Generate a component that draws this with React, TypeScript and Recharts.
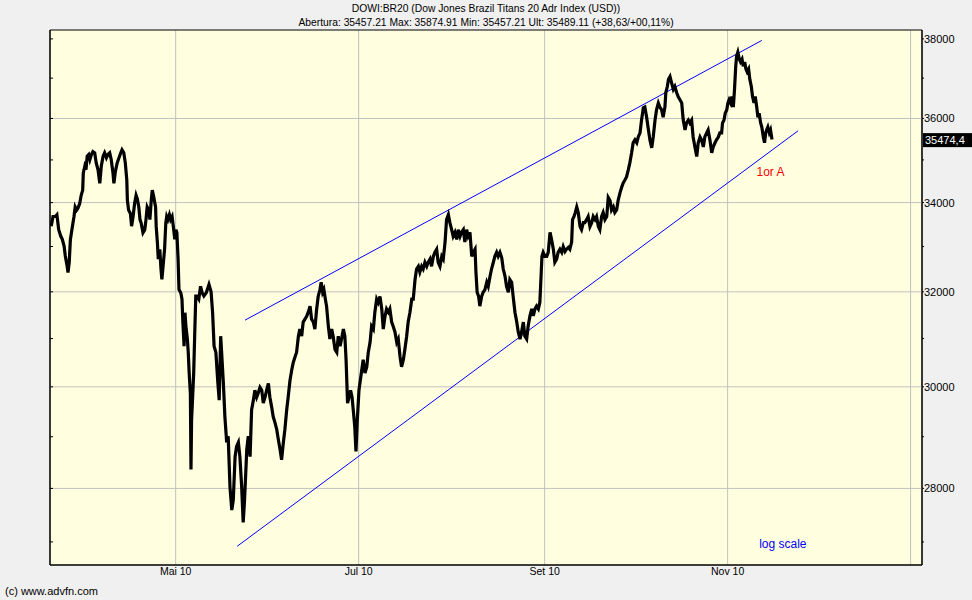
import { CartesianGrid, Line, LineChart, ReferenceArea, ReferenceDot, ReferenceLine, XAxis, YAxis } from "recharts"

// days counted from 1 May 2010 (intraday, so fractional)
const days = [
  -41.5, -40.9, -40.1, -39.6, -39.0, -38.3, -37.8, -37.2, -36.8, -36.2,
  -35.9, -35.5, -35.1, -34.6, -33.9, -33.5, -33.0, -32.6, -32.0, -31.5,
  -31.0, -30.8, -30.3, -29.9, -29.5, -29.0, -28.6, -28.1, -27.6, -27.0,
  -26.5, -25.9, -25.3, -24.8, -24.2, -23.7, -23.1, -22.6, -22.0, -21.5,
  -20.9, -20.6, -20.1, -19.5, -18.9, -18.3, -17.9, -17.3, -16.8, -16.3,
  -16.1, -15.7, -15.1, -14.7, -14.2, -13.7, -13.2, -12.8, -12.3, -11.9,
  -11.5, -10.9, -10.3, -9.9, -9.5, -9.0, -8.6, -8.1, -7.8, -7.3,
  -7.0, -6.7, -6.5, -6.1, -5.8, -5.3, -4.9, -4.6, -4.1, -3.7,
  -3.3, -3.0, -2.6, -2.1, -1.7, -1.2, -0.8, -0.3, 0.1, 0.4,
  0.8, 1.1, 1.7, 2.1, 2.4, 2.8, 3.1, 3.4, 3.9, 4.2,
  4.5, 4.9, 5.1, 5.3, 5.7, 6.0, 6.3, 6.7, 7.0, 7.7,
  8.3, 8.8, 9.4, 10.2,
  11.1, 11.8, 12.3, 12.8, 13.4, 14.0, 14.5, 15.0, 15.4, 15.9,
  16.4, 17.0, 17.5, 18.1, 18.7, 19.2, 19.8, 20.3, 20.9, 21.4,
  22.0, 22.5, 22.9, 23.3, 23.7, 24.2, 24.8, 25.3, 25.9, 26.4,
  27.0, 27.5, 28.1, 28.7, 29.2, 29.8, 30.3, 30.9, 31.4, 32.0,
  32.5, 33.1, 33.7, 34.2, 34.8, 35.3, 35.9, 36.4, 37.0, 37.5,
  38.1, 38.7, 39.2, 39.8, 40.3, 40.9, 41.4, 42.0, 42.5, 43.1,
  43.7, 44.2, 44.8, 45.3, 45.9, 46.4, 47.0, 47.5, 48.1, 48.5,
  49.0, 49.4, 49.9, 50.3, 50.9, 51.4, 52.0, 52.5, 53.1, 53.7,
  54.2, 54.8, 55.3, 55.9, 56.4, 56.8, 57.0, 57.3, 57.8, 58.3,
  58.8, 59.2, 59.7, 60.1, 60.5, 61.1,
  62.5, 63.1, 63.7, 64.2, 64.8, 65.3, 65.9, 66.4, 67.0, 67.5,
  68.1, 68.7, 69.2, 69.8, 70.3, 70.9, 71.4, 72.0, 72.5, 73.1,
  73.7, 74.2, 74.8, 75.3, 75.9, 76.4, 77.0, 77.5, 78.1, 78.7,
  79.2, 79.8, 80.3, 80.9, 81.4, 82.0, 82.5, 83.1, 83.7, 84.2,
  84.8, 85.3, 85.9, 86.4, 87.0, 87.5, 88.1, 88.7, 89.2, 89.8,
  90.3, 90.9, 91.4, 92.0, 92.5, 93.1, 93.7, 94.2, 94.8, 95.3,
  95.9, 96.4, 97.0, 97.5, 98.1, 98.7, 99.2, 99.8, 100.1, 100.5,
  101.0, 101.4, 102.0, 102.5, 103.1, 103.7, 104.2, 104.8, 105.3, 105.9,
  106.4, 107.0, 107.5, 108.1, 108.7, 109.2, 109.8, 110.3, 110.9, 111.4,
  112.0, 112.5, 113.1, 113.7, 114.2, 114.8, 115.3, 115.9, 116.4, 117.0,
  117.5, 118.1, 118.7, 119.2, 119.8, 120.3, 120.9, 121.4, 121.8, 122.1,
  122.5, 123.1, 123.7, 124.2, 124.8, 125.3, 125.9, 126.4, 127.0, 127.5,
  128.1, 128.7, 129.2, 129.8, 130.3, 130.9, 131.4, 132.0, 132.3, 132.8,
  133.2, 133.7, 134.2, 134.8, 135.3, 135.9, 136.4, 137.0, 137.5, 138.1,
  138.7, 139.2, 139.8, 140.3, 140.9, 141.4, 142.0, 142.5, 143.1, 143.7,
  144.2, 144.8, 145.3, 145.9, 146.4, 147.0, 147.5, 148.1, 148.7, 149.2,
  149.8, 150.3, 150.9, 151.4, 152.0, 152.5, 153.1, 153.7, 154.2, 154.8,
  155.3, 155.9, 156.4, 157.0, 157.5, 158.1, 158.7, 159.2, 159.8, 160.3,
  160.9, 161.4, 162.0, 162.5, 163.1, 163.4, 163.9, 164.3, 164.8, 165.3,
  165.9, 166.4, 167.0, 167.5, 168.1, 168.7, 169.2, 169.8, 170.3, 170.9,
  171.4, 172.0, 172.5, 173.1, 173.7, 174.2, 174.8, 175.3, 175.9, 176.4,
  177.0, 177.5, 178.1, 178.7, 179.2, 179.8, 180.3, 180.9, 181.4, 182.0,
  182.3, 182.8, 183.2, 183.7, 184.1, 184.5, 185.0, 185.4, 185.9, 186.3,
  186.7, 187.0, 187.4, 187.9, 188.3, 188.8, 189.2, 189.7, 190.1, 190.5,
  191.0, 191.4, 191.9, 192.3, 192.8, 193.2, 193.7, 194.1, 194.5, 195.0,
  195.4, 195.9, 196.3, 196.7, 197.0, 197.4, 197.9, 198.3, 198.8,
]

const prices = [
  33460, 33680, 33680, 33720, 33380, 33230, 33160, 33010, 32790, 32570,
  32420, 32640, 33160, 33380, 33680, 33900, 33830, 33870, 33980, 34170,
  34290, 34690, 34850, 34770, 35090, 35130, 35010, 35130, 35200, 35170,
  34930, 34770, 34450, 34850, 35090, 35170, 35050, 35130, 35170, 35010,
  34690, 34450, 34730, 34930, 35050, 35170, 35240, 35170, 34930, 34530,
  34050, 33830, 33750, 33460, 33680, 33980, 34170, 34090, 33900, 33610,
  33530, 33310, 33380, 33610, 33900, 33830, 33610, 34090, 34290, 34130,
  34010, 33900, 33460, 33090, 32720, 32940, 32500, 32270, 32640, 32940,
  33530, 33680, 33610, 33720, 33610, 33680, 33460, 33160, 33380, 33310,
  32720, 32050, 31980, 31840, 31340, 30840, 31550, 31270, 30990, 30700,
  30280, 29860, 28360, 29340, 29860, 30280, 30990, 31910, 31910, 31840,
  32120, 31980, 31910, 31980,
  32160, 32000, 31560, 30840, 30710, 30130, 29730, 31050, 30620, 30070,
  29400, 28890, 29010, 28030, 27590, 27780, 28610, 28810, 28890, 28610,
  28030, 27360, 27720, 28220, 28750, 29010, 28610, 29530, 29730, 29930,
  29790, 29870, 29990, 29930, 29670, 29790, 29930, 30070, 29790, 29590,
  29400, 29280, 29140, 28950, 28750, 28550, 28890, 29140, 29530, 29790,
  30130, 30350, 30500, 30620, 30710, 31050, 31200, 31050, 31350, 31410,
  31480, 31560, 31690, 31410, 31350, 31200, 31630, 31900, 32050, 32210,
  31990, 32050, 31840, 31690, 31260, 30990, 31200, 31050, 30770, 30710,
  31050, 30840, 30990, 31200, 31050, 30560, 30200, 29670, 29790, 29930,
  29790, 29530, 29200, 28710, 29280, 29930,
  30560, 30280, 30410, 30710, 30920, 31260, 31200, 31560, 31840, 31770,
  31900, 31630, 31200, 31480, 31630, 31560, 31630, 31350, 31260, 31140,
  30920, 30990, 30620, 30410, 30560, 30770, 31050, 31350, 31560, 31840,
  31840, 32270, 32500, 32560, 32430, 32560, 32500, 32650, 32560, 32650,
  32720, 32560, 32780, 32870, 32940, 32650, 32560, 32780, 32720, 33100,
  33610, 33720, 33540, 33380, 33230, 33320, 33160, 33380, 33230, 33320,
  33380, 33100, 33380, 33230, 33320, 32780, 32870, 32940, 32430, 31990,
  31900, 31690, 31900, 31990, 32050, 32210, 32120, 32340, 32500, 32650,
  32780, 32870, 32780, 32870, 32750, 32500, 32340, 32120, 31990, 32270,
  32210, 31900, 31560, 31350, 31140, 30990, 31140, 31350, 31050, 30990,
  31260, 31480, 31630, 31480, 31630, 31690, 31630, 31770, 32340, 32780,
  32870, 32780, 32780, 32870, 33320, 33160, 32940, 32650, 32720, 32870,
  32940, 32870, 33000, 32890, 32940, 32980, 32940, 33100, 33610, 33680,
  33770, 33900, 33770, 33450, 33380, 33540, 33540, 33610, 33680, 33450,
  33540, 33680, 33610, 33680, 33450, 33380, 33680, 33770, 33610, 33680,
  34120, 34050, 33830, 33900, 33770, 33830, 34050, 34220, 34360, 34460,
  34530, 34600, 34770, 34930, 35170, 35410, 35480, 35410, 35550, 35650,
  35960, 36260, 36280, 36030, 35770, 35480, 35290, 35550, 35960, 36210,
  36380, 36280, 36210, 36030, 36280, 36640, 36790, 36970, 37040, 36890,
  36720, 36790, 36640, 36540, 36460, 36380, 35960, 35720, 35890, 35960,
  35890, 35960, 35550, 35310, 35080, 35410, 35550, 35480, 35310, 35550,
  35650, 35720, 35480, 35170, 35310, 35410, 35480, 35550, 35650, 35650,
  35890, 35960, 36130, 36210, 36380, 36460, 36380, 36540, 36280, 36720,
  37300, 37560, 37660, 37480, 37410, 37480, 37300, 37410, 37230, 37160,
  37230, 36970, 36790, 36540, 36380, 36540, 36280, 36030, 36130, 35890,
  35790, 35550, 35410, 35650, 35720, 35790, 35650, 35720, 35490,
]

const monthTicks = [0, 61, 123, 184, 245]
const monthLabels = ["Mai 10", "Jul 10", "Set 10", "Nov 10", ""]
const priceTicks = [27000, 28000, 29000, 30000, 31000, 32000, 33000, 34000, 35000, 36000, 37000, 38000]
const gridPrices = [28000, 30000, 32000, 34000, 36000]

const upperTrend = [{ x: 23.1, y: 31390 }, { x: 195.4, y: 37960 }]
const lowerTrend = [{ x: 20.5, y: 26920 }, { x: 207.5, y: 35700 }]
const lastPrice = 35474.4

const xDomain = [-41.9, 248.8]
const yDomain = [26580, 38230]

const data = days.map((day, i) => ({ day, price: prices[i] }))

const font = "'Liberation Sans', Arial, sans-serif"

function PriceTick({ x, y, payload }: any) {
  if (payload.value % 2000 !== 0) return <g />
  return (
    <text x={x} y={y + 4} fontSize={11} fill="#000" fontFamily={font} textAnchor="start">
      {payload.value}
    </text>
  )
}

function EmptyTick() {
  return <g />
}

function LastPriceLabel({ viewBox }: any) {
  const right = viewBox.x + viewBox.width
  return (
    <g>
      <rect x={right + 1} y={viewBox.y - 7} width={50} height={14} fill="#000" />
      <text x={right + 3} y={viewBox.y + 4} fontSize={11} fill="#fff" fontFamily={font}>
        {lastPrice.toFixed(1).replace(".", ",")}
      </text>
    </g>
  )
}

export default function App() {
  return (
    <div style={{ position: "absolute", left: 0, top: 0, width: 972, height: 600, background: "#f0f0f0", fontFamily: font }}>
      <div style={{ position: "absolute", top: 2, width: 972, textAlign: "center", fontSize: 10.3, lineHeight: "13px" }}>
        DOWI:BR20 (Dow Jones Brazil Titans 20 Adr Index (USD))
      </div>
      <div style={{ position: "absolute", top: 16, width: 972, textAlign: "center", fontSize: 10.3, lineHeight: "13px" }}>
        Abertura: 35457.21 Max: 35874.91 Min: 35457.21 Ult: 35489.11 (+38,63/+00,11%)
      </div>
      <LineChart width={972} height={600} data={data} margin={{ top: 30, right: 0, bottom: 0, left: 50 }}>
        <CartesianGrid yAxisId="r" horizontal={false} stroke="#c0c0c0" fill="#ffffe0" fillOpacity={1} />
        <XAxis
          dataKey="day"
          type="number"
          domain={xDomain}
          allowDataOverflow
          ticks={monthTicks}
          tickFormatter={(v: number) => monthLabels[monthTicks.indexOf(v)]}
          height={35}
          tickSize={0}
          tickMargin={3}
          axisLine={{ stroke: "#000" }}
          tick={{ fontSize: 10.5, fill: "#000", fontFamily: font }}
        />
        <YAxis
          yAxisId="l"
          orientation="left"
          mirror
          scale="log"
          type="number"
          domain={yDomain}
          allowDataOverflow
          ticks={priceTicks}
          tick={<EmptyTick />}
          tickSize={3}
          tickLine={{ stroke: "#000" }}
          axisLine={{ stroke: "#000" }}
        />
        <YAxis
          yAxisId="r"
          orientation="right"
          scale="log"
          type="number"
          domain={yDomain}
          allowDataOverflow
          ticks={priceTicks}
          width={50}
          tickSize={2}
          tickMargin={0}
          tickLine={{ stroke: "#000" }}
          axisLine={{ stroke: "#000" }}
          tick={<PriceTick />}
        />
        {gridPrices.map((p) => (
          <ReferenceLine key={p} yAxisId="r" y={p} stroke="#c0c0c0" />
        ))}
        <ReferenceLine yAxisId="r" segment={upperTrend} stroke="#0000ff" strokeWidth={1} />
        <ReferenceLine yAxisId="r" segment={lowerTrend} stroke="#0000ff" strokeWidth={1} />
        <Line
          yAxisId="r"
          type="linear"
          dataKey="price"
          stroke="#000"
          strokeWidth={3.2}
          strokeLinejoin="miter"
          dot={false}
          isAnimationActive={false}
        />
        <ReferenceArea
          yAxisId="r"
          x1={xDomain[0]}
          x2={xDomain[1]}
          y1={yDomain[0]}
          y2={yDomain[1]}
          fill="none"
          stroke="#000"
          strokeWidth={1}
        />
        <ReferenceLine yAxisId="r" y={lastPrice} stroke="none" label={<LastPriceLabel />} />
        <ReferenceDot
          yAxisId="r"
          x={198.3}
          y={34711}
          r={0}
          fill="none"
          stroke="none"
          label={{ value: "1or A", fill: "#ff0000", fontSize: 12, fontFamily: font, position: "center" }}
        />
        <ReferenceDot
          yAxisId="r"
          x={202.4}
          y={26961}
          r={0}
          fill="none"
          stroke="none"
          label={{ value: "log scale", fill: "#0000ff", fontSize: 12, fontFamily: font, position: "center" }}
        />
      </LineChart>
      <div style={{ position: "absolute", left: 5, top: 585, fontSize: 11, lineHeight: "13px" }}>(c) www.advfn.com</div>
    </div>
  )
}
